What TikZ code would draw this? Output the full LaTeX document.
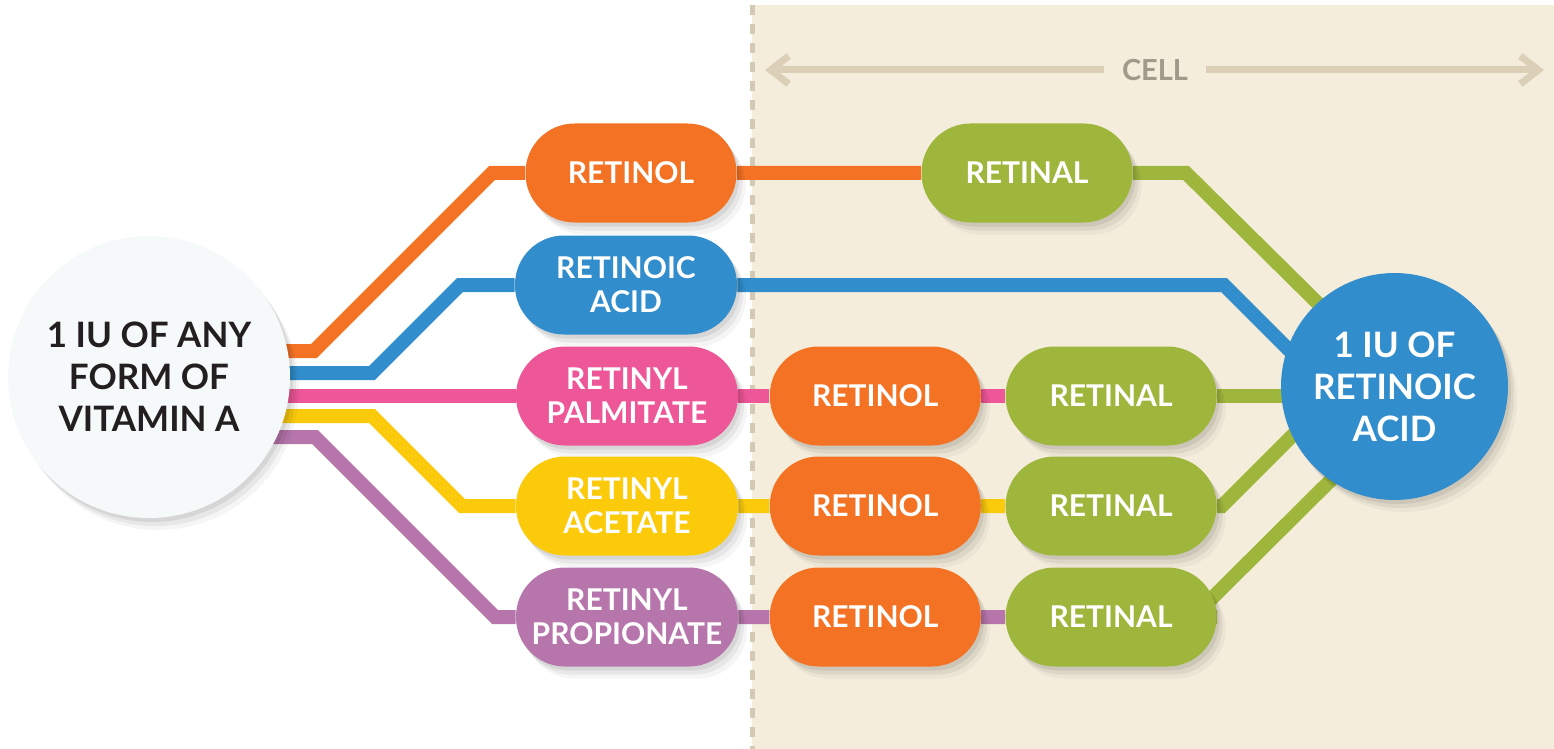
\documentclass[tikz,border=0pt]{standalone}
\usepackage{fontspec}
\setmainfont{Lato}
\usetikzlibrary{positioning}
\usetikzlibrary{arrows.meta}
\usetikzlibrary{shadows}

\definecolor{vorange}{RGB}{243,114,36}
\definecolor{vblue}{RGB}{49,141,203}
\definecolor{vpink}{RGB}{238,87,151}
\definecolor{vyellow}{RGB}{251,203,11}
\definecolor{vpurple}{RGB}{182,118,172}
\definecolor{vgreen}{RGB}{159,182,61}
\definecolor{cellbg}{RGB}{245,237,220}
\definecolor{celldash}{RGB}{211,201,181}
\definecolor{cellarrow}{RGB}{220,207,184}
\definecolor{celltext}{RGB}{161,153,138}
\definecolor{mist}{RGB}{246,249,250}
\definecolor{ink}{RGB}{35,31,32}

\pgfdeclarelayer{bg}
\pgfdeclarelayer{lines}
\pgfsetlayers{bg,lines,main}

\tikzset{
  softshadow/.style={drop shadow={shadow xshift=1.5pt,shadow yshift=-2pt,opacity=.07,fill=black},
                     drop shadow={shadow xshift=3pt,shadow yshift=-4pt,opacity=.06,fill=black},
                     drop shadow={shadow xshift=4.5pt,shadow yshift=-6pt,opacity=.04,fill=black}},
  pill/.style={rectangle, rounded corners=24.5pt, minimum width=105.5pt, minimum height=49.5pt,
               inner sep=0pt, align=center, text=white,
               font=\bfseries\fontsize{15}{17}\selectfont, softshadow},
  widepill/.style={pill, minimum width=111pt},
  bigdot/.style={circle, minimum size=141pt, inner sep=0pt, align=center,
                 font=\bfseries\fontsize{17.5}{21}\selectfont, softshadow},
  link/.style={line width=7pt},
}

\begin{document}
\begin{tikzpicture}[x=0.5pt, y=-0.5pt]
    \useasboundingbox (0,0) rectangle (1554,749);

    % Start points and end points
    \node[bigdot, fill=mist, text=ink] (vita) at (149,377) {1 IU OF ANY\\FORM OF\\VITAMIN A};
    \node[bigdot, fill=vblue, text=white, minimum size=113.5pt] (rac) at (1394.5,386.5) {1 IU OF\\RETINOIC\\ACID};

    % Forms of vitamin A
    \node[pill, fill=vorange] (rol0) at (631,173) {RETINOL};
    \node[widepill, fill=vblue] (racid) at (626,285) {RETINOIC\\ACID};
    \node[widepill, fill=vpink] (palm) at (627,396) {RETINYL\\PALMITATE};
    \node[widepill, fill=vyellow] (acet) at (627,506) {RETINYL\\ACETATE};
    \node[widepill, fill=vpurple] (prop) at (627,617) {RETINYL\\PROPIONATE};

    % Steps inside the cell
    \node[pill, fill=vgreen] (ral0) at (1027,173) {RETINAL};
    \foreach \src/\n in {palm/3, acet/4, prop/5} {
        \node[pill, fill=vorange, right=15.5pt of \src] (rol\n) {RETINOL};
        \node[pill, fill=vgreen, right=12pt of rol\n] (ral\n) {RETINAL};
    }

    % Cell region
    \begin{pgfonlayer}{bg}
        \fill[cellbg] (752,5) rectangle (1554,749);
        \draw[celldash, line width=2.5pt, dash pattern=on 5pt off 4.5pt] (752,5) -- (752,749); % membrane
        \node[text=celltext, font=\bfseries\fontsize{14.5}{17}\selectfont, inner xsep=9pt] (cell) at (1155,70) {CELL};
        \coordinate (cellL) at (765,70);
        \coordinate (cellR) at (1544,70);
        \draw[cellarrow, line width=3.5pt, -{Straight Barb[length=9pt, width=14pt]}] (cell) -- (cellL);
        \draw[cellarrow, line width=3.5pt, -{Straight Barb[length=9pt, width=14pt]}] (cell) -- (cellR);
    \end{pgfonlayer}

    % Pathways
    \begin{pgfonlayer}{lines}
        \draw[link, vorange] (vita.center) ++(0,-26) -- (314,351) -- (492,173) -- (rol0) -- (ral0);
        \draw[link, vblue] (vita.center) ++(0,-4) -- (372,373) -- (460,285) -- (racid)
              -- (1224,285) -- ([shift={(-64,5)}]rac.center);
        \draw[link, vpink] (vita.center |- palm) -- (palm) -- (rol3) -- (ral3);
        \draw[link, vyellow] (vita.center) ++(0,39) -- (372,416) -- (462,506) -- (acet) -- (rol4) -- (ral4);
        \draw[link, vpurple] (vita.center) ++(0,60) -- (315,437) -- (495,617) -- (prop) -- (rol5) -- (ral5);

        % Retinal to retinoic acid
        \draw[link, vgreen] (ral0) -- (1186,173) -- ([shift={(-44,-51)}]rac.center);
        \draw[link, vgreen] (ral3) -- (rac.center |- ral3);
        \draw[link, vgreen] (ral4) -- (1222,506) -- ([shift={(-64,11)}]rac.center);
        \draw[link, vgreen] (ral5) -- (1193,617) -- ([shift={(-54,84)}]rac.center);
    \end{pgfonlayer}
\end{tikzpicture}
\end{document}
